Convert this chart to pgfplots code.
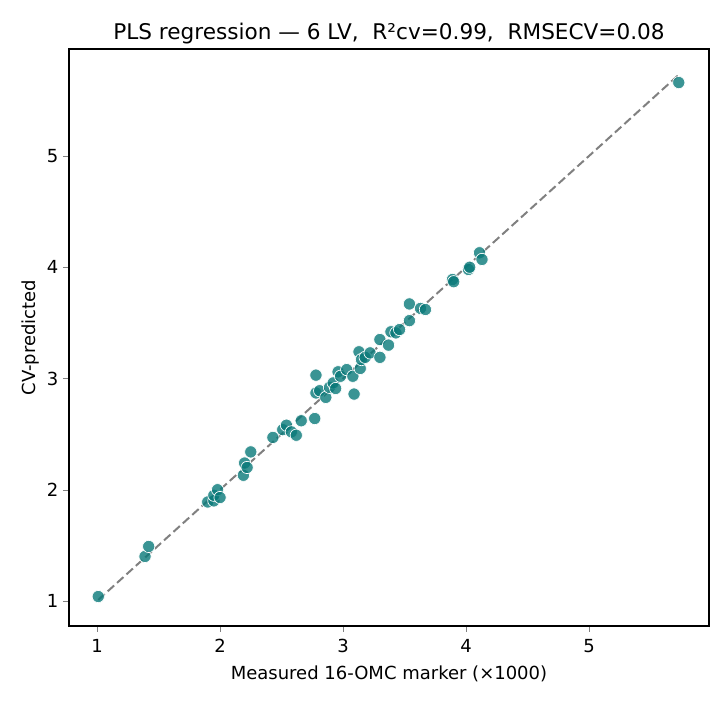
\documentclass[border=0pt]{standalone}
\usepackage{pgfplots}
\pgfplotsset{compat=1.18}
\usepackage{fontspec}
\setmainfont{DejaVu Sans}
\definecolor{pt}{RGB}{9,121,121}
\begin{document}
\begin{tikzpicture}
\path[use as bounding box] (-51.75pt,-57pt) rectangle (494.25pt,469.5pt);
\begin{axis}[
  scale only axis, width=480pt, height=432.75pt,
  xmin=0.772, xmax=5.976, ymin=0.775, ymax=5.962,
  xtick={1,2,3,4,5}, ytick={1,2,3,4,5},
  tick align=outside, tick pos=left,
  major tick length=4.5pt,
  /pgf/number format/assume math mode=true,
  ticklabel style={font=\fontsize{13.5}{16}\selectfont},
  xticklabel style={yshift=-2pt},
  label style={font=\fontsize{13.5}{16}\selectfont},
  xlabel style={yshift=-3pt},
  ylabel style={yshift=-1pt},
  title style={font=\fontsize{16.2}{19}\selectfont, yshift=-5.5pt},
  title={PLS regression — 6 LV,\ \ R²cv=0.99,\ \ RMSECV=0.08},
  xlabel={Measured 16-OMC marker (×1000)},
  ylabel={CV-predicted},
  axis line style={line width=0.8pt},
]
\addplot[color={rgb,255:red,128;green,128;blue,128}, line width=1.5pt, dash pattern=on 6.5pt off 3pt, forget plot] coordinates {(1.01,1.01) (5.73,5.73)};
\addplot[only marks, mark=*, mark size=4.6pt, mark options={fill=pt, fill opacity=0.8, draw=white, line width=0.5pt}] coordinates {
(1.01,1.04) (1.39,1.40) (1.42,1.49) (1.90,1.89) (1.95,1.90) (1.95,1.95)
(1.98,2.00) (2.00,1.93) (2.19,2.13) (2.20,2.24) (2.22,2.20) (2.25,2.34)
(2.43,2.47) (2.51,2.54) (2.54,2.58) (2.58,2.52) (2.62,2.49) (2.66,2.62)
(2.77,2.64) (2.78,3.03) (2.78,2.87) (2.81,2.89) (2.86,2.83) (2.89,2.92)
(2.92,2.96) (2.94,2.91) (2.96,3.06) (2.98,3.02) (3.03,3.08) (3.08,3.02)
(3.09,2.86) (3.13,3.24) (3.14,3.09) (3.15,3.17) (3.18,3.19) (3.22,3.23)
(3.30,3.19) (3.30,3.35) (3.37,3.30) (3.39,3.42) (3.43,3.41) (3.46,3.44)
(3.54,3.52) (3.54,3.67) (3.63,3.63) (3.67,3.62) (3.89,3.89) (3.90,3.87)
(4.02,3.98) (4.03,4.00) (4.11,4.13) (4.13,4.07) (5.73,5.66)
};
\end{axis}
\end{tikzpicture}
\end{document}
